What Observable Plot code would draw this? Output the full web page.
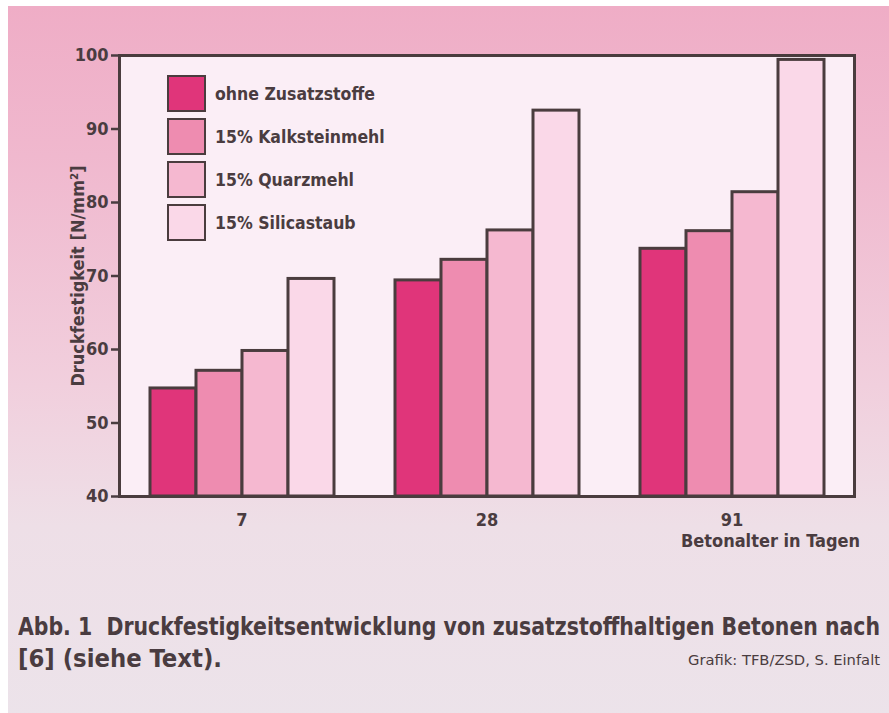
<!DOCTYPE html>
<html>
<head>
<meta charset="utf-8">
<script src="https://cdn.jsdelivr.net/npm/d3@7"></script>
<script src="https://cdn.jsdelivr.net/npm/@observablehq/plot@0.6"></script>
<style>
  html, body { margin: 0; padding: 0; background: #fff; }
  #page { position: relative; width: 889px; height: 713px; overflow: hidden; background: #fff; }
  #bg { position: absolute; left: 8px; top: 6px; right: 0; bottom: 0;
        background: linear-gradient(to bottom, #efadc6 0px, #f0b8ce 150px, #f1cfdd 380px, #eedfe7 520px, #ece3ea 713px); }
  .cf { font-family: "Liberation Sans Narrow", "DejaVu Sans Condensed", "Roboto Condensed", sans-serif; font-stretch: condensed; color: #4a3c40; }
  #chart { position: absolute; left: 0; top: 0; }
  #legend { position: absolute; left: 167px; top: 72px; }
  .row { display: flex; align-items: center; height: 43px; }
  .sw { width: 35px; height: 33px; border: 2px solid #4a3c3e; margin-right: 9px; }
  .lt { font-weight: bold; font-size: 17.5px; }
  #xlabel { position: absolute; right: 29px; top: 530px; font-weight: bold; font-size: 18px; }
  .fit { position: absolute; white-space: nowrap; transform-origin: 0 0; }
  #cap1 { left: 18px; top: 613px; font-weight: bold; font-size: 24px; }
  #cap2 { left: 18px; top: 645px; font-weight: bold; font-size: 24px; }
  #credit { left: 688px; top: 652px; font-size: 14px; }
</style>
</head>
<body>
<div id="page" class="cf">
  <div id="bg"></div>
  <div id="chart"></div>
  <div id="legend"></div>
  <div id="xlabel" class="cf">Betonalter in Tagen</div>
  <div id="cap1" class="cf fit" data-w="862">Abb. 1&nbsp; Druckfestigkeitsentwicklung von zusatzstoffhaltigen Betonen nach</div>
  <div id="cap2" class="cf fit" data-w="204">[6] (siehe Text).</div>
  <div id="credit" class="cf fit" data-w="192">Grafik: TFB/ZSD, S. Einfalt</div>
</div>
<script>
const days = ["7", "28", "91"];
const series = ["ohne Zusatzstoffe", "15% Kalksteinmehl", "15% Quarzmehl", "15% Silicastaub"];
const ohne = [54.7, 69.4, 73.7];
const kalk = [57.1, 72.2, 76.1];
const quarz = [59.8, 76.2, 81.4];
const silica = [69.6, 92.5, 99.4];
const colors = ["#e0357a", "#ee8cb0", "#f5b8d0", "#fad8e8"];
const yTicks = [40, 50, 60, 70, 80, 90, 100];
const yLabel = "Druckfestigkeit [N/mm²]";

const valuesBySeries = [ohne, kalk, quarz, silica];
const data = days.flatMap((d, i) => series.map((s, j) => ({day: d, series: s, value: valuesBySeries[j][i]})));

const ink = "#4a3c3e";
const font = '"Liberation Sans Narrow", "DejaVu Sans Condensed", sans-serif';
const outer = -29;

const chart = Plot.plot({
  width: 889,
  height: 560,
  marginTop: 55,
  marginLeft: 119,
  marginRight: 35,
  marginBottom: 64,
  style: {background: "transparent", fontFamily: font, color: "#4a3c40", overflow: "visible"},
  fx: {domain: days, paddingInner: 0.237, paddingOuter: 0.118, label: null},
  x: {domain: series, padding: 0, axis: null},
  y: {domain: [40, 100], ticks: yTicks},
  color: {domain: series, range: colors},
  marks: [
    Plot.frame({fill: "#fbeef6", facet: "super", insetLeft: outer, insetRight: outer}),
    Plot.barY(data, {fx: "day", x: "series", y1: 40, y2: "value", fill: "series", stroke: ink, strokeWidth: 3, inset: 0}),
    Plot.frame({stroke: ink, strokeWidth: 3, facet: "super", insetLeft: outer, insetRight: outer}),
    Plot.axisY({ticks: yTicks, tickSize: 8, tickPadding: 3, dx: outer, fontSize: 18, fontWeight: "bold", strokeWidth: 2.5, color: "#4a3c40", label: yLabel, labelAnchor: "center", labelOffset: 77, labelArrow: "none"}),
    Plot.axisFx({anchor: "bottom", tickSize: 0, tickPadding: 17, fontSize: 18, fontWeight: "bold", color: "#4a3c40", label: null})
  ]
});
document.getElementById("chart").appendChild(chart);

const legend = document.getElementById("legend");
series.forEach((s, j) => {
  const row = document.createElement("div");
  row.className = "row";
  const sw = document.createElement("div");
  sw.className = "sw";
  sw.style.background = colors[j];
  const t = document.createElement("div");
  t.className = "lt cf";
  t.textContent = s;
  row.appendChild(sw);
  row.appendChild(t);
  legend.appendChild(row);
});

document.querySelectorAll(".fit").forEach(el => {
  const target = +el.dataset.w;
  const w = el.getBoundingClientRect().width;
  if (w > 0) el.style.transform = `scaleX(${target / w})`;
});
</script>
</body>
</html>
